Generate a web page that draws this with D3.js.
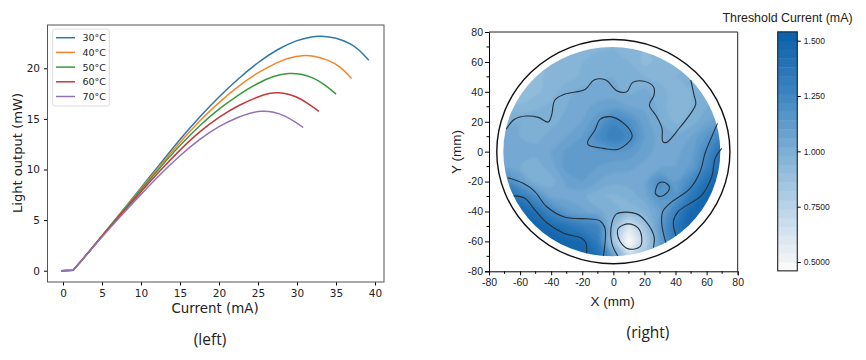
<!DOCTYPE html>
<html>
<head>
<meta charset="utf-8">
<script src="https://cdn.jsdelivr.net/npm/d3@7"></script>
<style>
    body { margin: 0; background: #fff; }
    svg { display: block; }
    text { fill: #222; }
    .lineAxis text { font-family: "DejaVu Sans"; font-size: 10.5px; }
    .mapAxis text { font-family: "Liberation Sans"; font-size: 10.5px; }
    .barAxis text { font-family: "Liberation Sans"; font-size: 8.5px; }
</style>
</head>
<body>
<div id="chart"></div>
<script>
// ---- left chart data: light output vs current ----
const tempLabels = ["30°C", "40°C", "50°C", "60°C", "70°C"];
const tempColors = ["#2f77ab", "#f5852a", "#399a3c", "#c4383a", "#9271b5"];

const curve30 = [[-.2,0],[1.3,.05],[2,.65],[3,1.57],[5,3.44],[7.5,5.8],[10,8.2],[12.5,10.6],[15,13],[17.5,15.2],[20,17.2],[22.5,19],[25,20.6],[27.5,21.9],[30,22.8],[32,23.15],[33,23.2],[35,23.05],[37,22.4],[38,21.8],[39.2,20.8]];
const curve40 = [[-.2,0],[1.3,.05],[2,.65],[3,1.57],[5,3.44],[7.5,5.78],[10,8.1],[12.5,10.45],[15,12.7],[17.5,14.8],[20,16.65],[22.5,18.25],[25,19.6],[27.5,20.6],[29,21.05],[30.8,21.3],[32,21.25],[34,20.85],[35.5,20.2],[37,19]];
const curve50 = [[-.2,0],[1.3,.05],[2,.65],[3,1.57],[5,3.44],[7.5,5.72],[10,8],[12.5,10.25],[15,12.4],[17.5,14.35],[20,16],[22.5,17.4],[25,18.55],[27,19.25],[29,19.55],[30.5,19.45],[32,19.1],[33.5,18.45],[35,17.45]];
const curve60 = [[-.2,0],[1.3,.05],[2,.65],[3,1.57],[5,3.42],[7.5,5.65],[10,7.8],[12.5,9.95],[15,11.95],[17.5,13.75],[20,15.2],[22.5,16.35],[25,17.2],[26.5,17.55],[27.5,17.62],[29,17.45],[30.5,17],[32,16.2],[32.8,15.75]];
const curve70 = [[-.2,0],[1.3,.05],[2,.65],[3,1.55],[5,3.35],[7.5,5.5],[10,7.55],[12.5,9.55],[15,11.4],[17.5,13],[20,14.3],[22.5,15.2],[24,15.6],[25.5,15.8],[27,15.7],[28.5,15.3],[30,14.6],[30.8,14.15]];
const curves = [curve30, curve40, curve50, curve60, curve70];

const lineXTicks = [0, 5, 10, 15, 20, 25, 30, 35, 40];
const lineYTicks = [0, 5, 10, 15, 20];

// ---- right chart data: threshold current map, read on a 10 mm grid ----
const gridX = [-70, -60, -50, -40, -30, -20, -10, 0, 10, 20, 30, 40, 50, 60, 70];
const gridY = [70, 60, 50, 40, 30, 20, 10, 0, -10, -20, -30, -40, -50, -60, -70];
const gridValues = [
    .96,.96,.96,.96,.95,.95,.97,.98,.97,.94,.95,.97,.97,.97,.97,
    .96,.95,.93,.95,.96,.98,1.00,1.01,.98,.93,.95,.97,.98,.98,.98,
    .95,.93,.93,.95,.96,.99,1.01,1.02,1.00,.98,.97,.98,.99,1.00,1.00,
    .93,.90,.93,.96,1.01,1.03,1.04,1.03,1.01,1.03,.99,.97,.98,1.00,1.00,
    .97,.95,.97,.99,1.02,1.05,1.07,1.09,1.06,1.05,1.01,.94,.98,1.02,1.04,
    1.01,1.02,1.01,1.01,1.03,1.06,1.14,1.25,1.19,1.08,1.02,.97,1.00,1.05,1.10,
    1.03,1.02,1.01,1.03,1.06,1.10,1.21,1.30,1.24,1.10,1.04,1.03,1.06,1.15,1.28,
    1.04,1.03,1.03,1.06,1.11,1.13,1.13,1.14,1.13,1.08,1.04,1.05,1.08,1.22,1.42,
    1.04,1.02,1.00,1.04,1.12,1.14,1.10,1.08,1.07,1.05,1.04,1.06,1.11,1.28,1.46,
    1.24,1.11,1.00,1.00,1.07,1.10,1.06,1.03,1.04,1.06,1.20,1.10,1.23,1.40,1.52,
    1.40,1.34,1.20,1.05,1.04,1.03,.99,.97,.99,1.04,1.16,1.14,1.35,1.48,1.54,
    1.50,1.48,1.40,1.25,1.12,1.07,1.03,1.00,.96,.98,1.08,1.28,1.47,1.52,1.54,
    1.54,1.54,1.50,1.44,1.38,1.30,1.25,.92,.62,.85,1.12,1.36,1.50,1.52,1.52,
    1.54,1.54,1.54,1.52,1.48,1.46,1.32,.86,.46,.76,1.10,1.34,1.48,1.52,1.52,
    1.52,1.52,1.52,1.52,1.52,1.50,1.42,1.10,.72,.83,1.08,1.30,1.47,1.52,1.52
];

// contour lines, [x mm, y mm]
const contourUpper = [[-69,15],[-63.3,21.8],[-55.8,23.8],[-48.3,22.9],[-41.8,19.8],[-39.7,24.5],[-37.6,34.5],[-31,38.5],[-18.2,41.6],[-12.4,47.9],[-4.9,47.9],[2.1,40.8],[8.6,40],[12.4,46.3],[18.9,47.2],[25.8,43.4],[26.2,37.9],[23.2,31.2],[27.9,23.4],[31.3,15.6],[31.8,6.7],[34.3,6.2],[42.9,16.3],[48.3,23.4],[53,31.8],[51.9,37.9],[49.8,47.9]];
const contourBlob = [[-8.6,21.6],[-2.1,23.4],[5.4,20],[11.8,12.2],[11.8,8.9],[3.2,1.6],[-6.4,2.2],[-16.1,4.5],[-16.5,6.7],[-11.8,14.5]];
const contourSmall = [[29,-21.2],[32.6,-20.5],[36,-23.4],[34.3,-27.8],[30,-30],[27,-27.8],[27.5,-24.5]];
const contourLowLeft = [[-68,-17.4],[-58,-21.2],[-50.5,-26.7],[-43,-36.7],[-31,-43.9],[-15,-45],[-8.6,-46.3],[-5.4,-51.2],[-6.4,-69.7]];
const contourLowLeftIn = [[-64,-29.6],[-56.9,-31.2],[-50.5,-39],[-43,-47.4],[-32,-54.6],[-20.4,-57.9],[-17.6,-61.2],[-17.2,-68]];
const contourSpotOut = [[2.8,-69.7],[-1,-61.2],[-1,-47.9],[2.1,-41.6],[15,-41.6],[21.9,-47.9],[26.2,-56.8],[25.8,-64.1]];
const contourSpotIn = [[3.2,-51.2],[9.6,-48.3],[16,-51.2],[18.2,-56.8],[17.2,-63.5],[9.6,-65],[4.3,-60.1],[2.6,-54.6]];
const contourRight = [[67,18.9],[63.3,10],[59,-1.1],[55.8,-13.4],[49.4,-24.5],[36.5,-34.5],[31.8,-40],[31.1,-47.9],[33.7,-60.8]];
const contourRightIn = [[69.7,2.2],[65.5,-4.5],[63.3,-16.7],[56.9,-29],[41.8,-40],[38.6,-46.8],[40.3,-56.3]];
const openContours = [contourUpper, contourLowLeft, contourLowLeftIn, contourSpotOut, contourRight, contourRightIn];
const closedContours = [contourBlob, contourSmall, contourSpotIn];

const mapTicks = [-80, -60, -40, -20, 0, 20, 40, 60, 80];
const mapMinorTicks = [-70, -50, -30, -10, 10, 30, 50, 70];
const barTicks = [0.5, 0.75, 1.0, 1.25, 1.5];
const barTickLabels = ["0.5000", "0.7500", "1.000", "1.250", "1.500"];
const colorValues = [0.46, 0.5, 0.75, 1.0, 1.25, 1.54];
const colorStops = ["#ffffff", "#f4f5f6", "#b8d3e7", "#7eafd5", "#3f86c2", "#0a5fa9"];

// -------------------------------------------------------------
let svg = d3.select("#chart").append("svg")
    .attr("width", 866)
    .attr("height", 360);

// softens the map bands, the source is a resampled image
svg.append("defs").append("filter")
    .attr("id", "soft")
    .append("feGaussianBlur")
    .attr("stdDeviation", 0.9);

drawLeft();
drawMap();
drawBar();

function addText(x, y, text, family, size, rotate) {
    return svg.append("text")
        .attr("transform", `translate(${x},${y})` + (rotate ? ` rotate(${rotate})` : ""))
        .attr("text-anchor", "middle")
        .style("font-family", family)
        .style("font-size", size + "px")
        .text(text);
}

// Left: line chart
function drawLeft() {
    let box = {left: 47.5, right: 384, top: 25, bottom: 282};
    let x = d3.scaleLinear().domain([0, 40]).range([63, 375]);
    let y = d3.scaleLinear().domain([0, 20]).range([270.7, 68.3]);

    let line = d3.line()
        .x(d => x(d[0]))
        .y(d => y(d[1]))
        .curve(d3.curveBasis);
    let flat = d3.line()
        .x(d => x(d[0]))
        .y(d => y(d[1]));

    // flat part below threshold is straight, so the kink stays sharp
    let g = svg.append("g")
        .attr("fill", "none")
        .attr("stroke-width", 1.5);
    curves.forEach((c, i) => {
        g.append("path")
            .attr("stroke", tempColors[i])
            .attr("d", flat(c.slice(0, 2)) + line(c.slice(1)));
    });

    svg.append("g").attr("class", "lineAxis")
        .attr("transform", `translate(0,${box.bottom})`)
        .call(d3.axisBottom(x).tickValues(lineXTicks).tickSize(3.5).tickPadding(4))
        .call(a => a.select(".domain").remove());
    svg.append("g").attr("class", "lineAxis")
        .attr("transform", `translate(${box.left},0)`)
        .call(d3.axisLeft(y).tickValues(lineYTicks).tickSize(3.5).tickPadding(4))
        .call(a => a.select(".domain").remove());

    svg.append("rect")
        .attr("x", box.left).attr("y", box.top)
        .attr("width", box.right - box.left).attr("height", box.bottom - box.top)
        .attr("fill", "none").attr("stroke", "#555").attr("stroke-width", 1);

    // legend
    let legend = svg.append("g");
    legend.append("rect")
        .attr("x", 52.7).attr("y", 29).attr("width", 56.6).attr("height", 77).attr("rx", 2)
        .attr("fill", "#fff").attr("stroke", "#ddd");
    tempLabels.forEach((t, i) => {
        let ly = 37.7 + i * 14.7;
        legend.append("line")
            .attr("x1", 56).attr("x2", 75).attr("y1", ly).attr("y2", ly)
            .attr("stroke", tempColors[i]).attr("stroke-width", 1.5);
        legend.append("text")
            .attr("x", 82.5).attr("y", ly + 3.6)
            .style("font-family", "DejaVu Sans").style("font-size", "9.5px")
            .text(t);
    });

    addText(215, 313, "Current (mA)", "DejaVu Sans", 13.4);
    addText(22, 153, "Light output (mW)", "DejaVu Sans", 13.1, -90);
    addText(210, 345, "(left)", "Open Sans", 15.5);
}

// Right: threshold map
function drawMap() {
    let x = d3.scaleLinear().domain([-80, 80]).range([489, 737.7]);
    let y = d3.scaleLinear().domain([-80, 80]).range([271.3, 32]);
    let color = d3.scaleLinear().domain(colorValues).range(colorStops);

    let levels = d3.range(0.46, 1.54, 0.04);
    let contours = d3.contours()
        .size([gridX.length, gridY.length])
        .thresholds(levels)(gridValues);

    // grid index to mm, d3.contours puts value i at i + 0.5
    let colX = c => x(gridX[0] + (c - 0.5) * (gridX[1] - gridX[0]));
    let rowY = c => y(gridY[0] + (c - 0.5) * (gridY[1] - gridY[0]));
    let ringPath = d3.line()
        .x(d => colX(d[0]))
        .y(d => rowY(d[1]))
        .curve(d3.curveCatmullRomClosed.alpha(0.5));

    let clip = svg.select("defs").append("clipPath").attr("id", "wafer");
    clip.append("ellipse")
        .attr("cx", x(-1)).attr("cy", y(0))
        .attr("rx", x(69.8) - x(0)).attr("ry", y(0) - y(70));

    let bands = svg.append("g").attr("clip-path", "url(#wafer)")
        .append("g").attr("filter", "url(#soft)");
    contours.forEach(c => {
        let d = "";
        c.coordinates.forEach(poly => poly.forEach(ring => {
            d += ringPath(ring.slice(0, -1));
        }));
        bands.append("path")
            .attr("d", d)
            .attr("fill-rule", "evenodd")
            .attr("fill", color(c.value + 0.02));
    });

    // black contour lines
    let open = d3.line().x(d => x(d[0])).y(d => y(d[1])).curve(d3.curveCatmullRom.alpha(0.5));
    let closed = d3.line().x(d => x(d[0])).y(d => y(d[1])).curve(d3.curveCatmullRomClosed.alpha(0.5));
    let lines = svg.append("g")
        .attr("fill", "none").attr("stroke", "#25303a").attr("stroke-width", 1.1);
    openContours.forEach(c => lines.append("path").attr("d", open(c)));
    closedContours.forEach(c => lines.append("path").attr("d", closed(c)));

    // wafer outline
    svg.append("ellipse")
        .attr("cx", x(0)).attr("cy", y(0))
        .attr("rx", x(75) - x(0)).attr("ry", y(0) - y(75))
        .attr("fill", "none").attr("stroke", "#111").attr("stroke-width", 1.4);

    // axes, the labels keep a plain hyphen as in the source
    let bottom = svg.append("g").attr("class", "mapAxis")
        .attr("transform", `translate(0,${y(-80)})`)
        .call(d3.axisBottom(x).tickValues(mapTicks).tickFormat(d => String(d)).tickSize(4).tickPadding(3));
    let left = svg.append("g").attr("class", "mapAxis")
        .attr("transform", `translate(${x(-80)},0)`)
        .call(d3.axisLeft(y).tickValues(mapTicks).tickFormat(d => String(d)).tickSize(4).tickPadding(2));
    bottom.selectAll(".minor").data(mapMinorTicks).enter().append("line")
        .attr("x1", d => x(d)).attr("x2", d => x(d)).attr("y2", 2.5).attr("stroke", "#000");
    left.selectAll(".minor").data(mapMinorTicks).enter().append("line")
        .attr("y1", d => y(d)).attr("y2", d => y(d)).attr("x2", -2.5).attr("stroke", "#000");

    svg.append("path")
        .attr("d", `M${x(-80)},${y(80)}H${x(80)}V${y(-80)}`)
        .attr("fill", "none").attr("stroke", "#222").attr("stroke-width", 1);

    addText(612.7, 306, "X (mm)", "Liberation Sans", 13.5);
    addText(461, 152, "Y (mm)", "Liberation Sans", 13.5, -90);
    addText(648, 338, "(right)", "Open Sans", 15.5);
}

// Right: color bar
function drawBar() {
    let y = d3.scaleLinear().domain([0.5, 1.5]).range([262, 40.7]);
    let color = d3.scaleLinear().domain(colorValues).range(colorStops);
    let levels = d3.range(0.46, 1.54, 0.04);

    svg.append("g").selectAll("rect")
        .data(levels)
        .enter()
        .append("rect")
        .attr("x", 777.7)
        .attr("width", 19.6)
        .attr("y", d => y(d + 0.04))
        .attr("height", d => y(d) - y(d + 0.04) + 0.4)
        .attr("fill", d => color(d + 0.02));

    svg.append("rect")
        .attr("x", 777.7).attr("y", y(1.54))
        .attr("width", 19.6).attr("height", y(0.46) - y(1.54))
        .attr("fill", "none").attr("stroke", "#222").attr("stroke-width", 1.1);

    svg.append("g").attr("class", "barAxis")
        .attr("transform", "translate(797.3,0)")
        .call(d3.axisRight(y).tickValues(barTicks)
            .tickFormat((d, i) => barTickLabels[i]).tickSize(3.5).tickPadding(3))
        .call(a => a.select(".domain").remove());

    addText(787.5, 22, "Threshold Current (mA)", "Liberation Sans", 12.4);
}
</script>
</body>
</html>
